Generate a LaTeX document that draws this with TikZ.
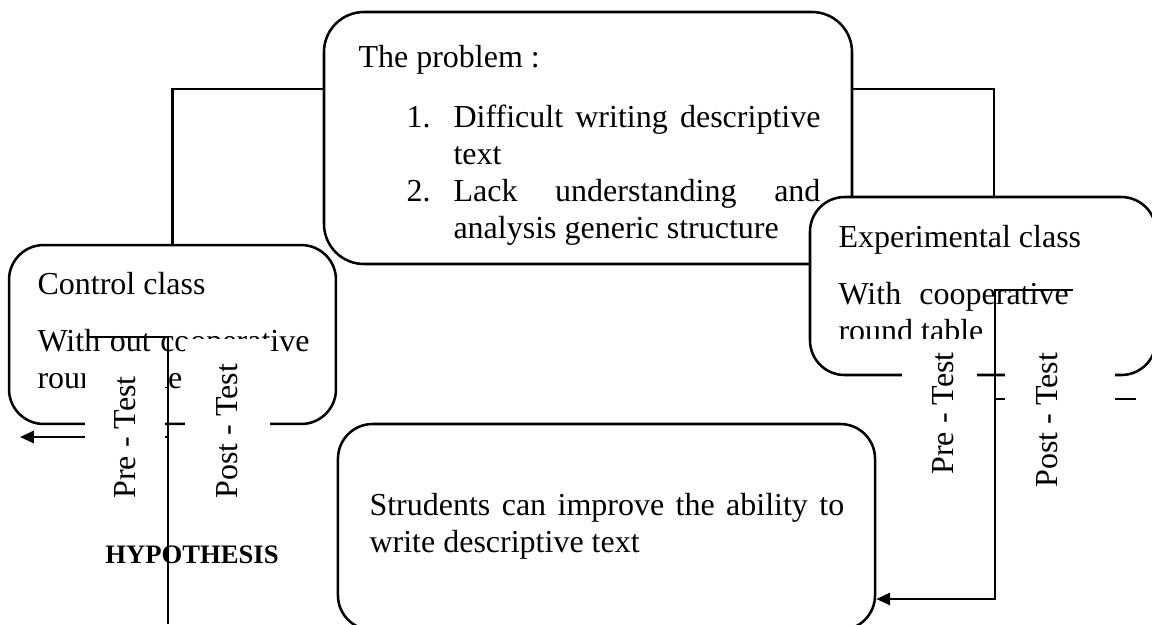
\documentclass[tikz,border=0pt]{standalone}
\usepackage{fontspec}
\setmainfont{Liberation Serif}
\usetikzlibrary{arrows.meta}
\tolerance=10000
\hbadness=10000
\begin{document}
\begin{tikzpicture}[x=0.375pt,y=-0.375pt,
  box/.style={draw, line width=0.95pt, rounded corners=13pt, inner sep=0pt},
  conn/.style={line width=0.8pt},
  thinconn/.style={line width=0.45pt},
  arr/.style={-{Triangle[length=5.2pt,width=4.6pt]}},
  txt/.style={anchor=base west, inner sep=0pt, font=\fontsize{12}{13.9}\selectfont},
  vlab/.style={anchor=base west, inner sep=0pt, rotate=90, font=\fontsize{12}{13.9}\selectfont},
  cover/.style={fill=white, draw=none}]
\useasboundingbox (0,0) rectangle (1152,624);

% boxes
\node[box, minimum width=122.6pt, minimum height=67.1pt] (ctrl) at (172.5,334.5) {};
\node[box, rounded corners=15pt, minimum width=198pt, minimum height=94.5pt] (prob) at (588,138) {};
\node[box, fill=white, minimum width=129.75pt, minimum height=66.75pt] (exp) at (983,286) {};
\node[box, minimum width=201.4pt, minimum height=77.25pt] (stud) at (606.5,527) {};

% texts
\node[txt] (probT) at (358,67) {The problem :};
\node[txt] (n1) at (406,127.6) {1.};
\node[txt] (i1) at (453,127.6) {\parbox[t]{137.6pt}{Difficult writing descriptive text}};
\node[txt] (n2) at (406,201.7) {2.};
\node[txt] (i2) at (453,201.7) {\parbox[t]{137.6pt}{Lack understanding and analysis generic structure}};

\node[txt] (ctrlT) at (37,294) {Control class};
\node[txt] (ctrlD) at (37,351) {\parbox[t]{102pt}{With out cooperative round table}};

\node[txt] (expT) at (838,247) {Experimental class};
\begin{scope}
  \clip (830,250) rectangle (1100,338);
  \node[txt] (expD) at (838,304) {\parbox[t]{86.3pt}{With cooperative round table}};
\end{scope}

\node[txt] (studT) at (369,515) {\parbox[t]{178pt}{Strudents can improve the ability to write descriptive text}};

\node[anchor=base, inner sep=0pt, font=\fontsize{10}{12}\selectfont\bfseries] (hyp) at (192,563) {HYPOTHESIS};

% connectors
\coordinate (ly) at (0,89);
\coordinate (rc) at (994,89);
\draw[conn] (ctrl.north) |- (prob.west |- ly);
\draw[thinconn] (prob.east |- ly) -- (rc) -- (rc |- exp.north);

\coordinate (la) at (88,337);
\coordinate (lb) at (168,337);
\coordinate (lc) at (168,624);
\draw[conn] (la) -- (lb) -- (lc);
\coordinate (ld) at (168,437);
\coordinate (le) at (20,437);
\draw[conn, arr] (ld) -- (le);

\coordinate (ra) at (1073,290);
\coordinate (rb) at (995,290);
\coordinate (ry) at (0,599);
\draw[conn, arr] (ra) -- (rb) |- (stud.east |- ry);
\coordinate (rd) at (995,399);
\coordinate (re) at (1136,399);
\draw[conn] (rd) -- (re);

% white frames of the vertical labels
\fill[cover] (85,358) rectangle (165,515);
\fill[cover] (185,339) rectangle (270,515);
\fill[cover] (902,345) rectangle (977,485);
\fill[cover] (1005,345) rectangle (1115,495);

% vertical labels
\node[vlab] (preL) at (135,499) {Pre - Test};
\node[vlab] (postL) at (237,499) {Post - Test};
\node[vlab] (preR) at (953,475) {Pre - Test};
\node[vlab] (postR) at (1057,488) {Post - Test};
\end{tikzpicture}
\end{document}
